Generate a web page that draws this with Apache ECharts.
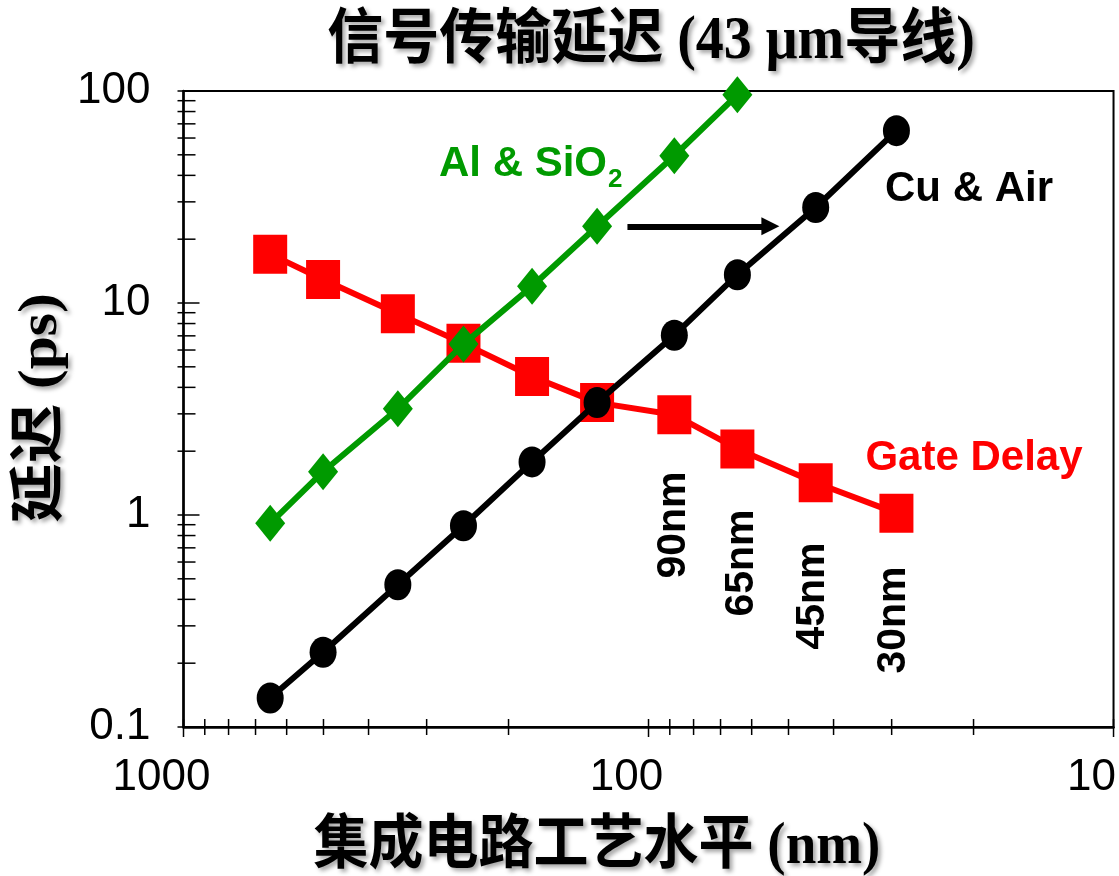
<!DOCTYPE html>
<html><head><meta charset="utf-8">
<script src="https://cdn.jsdelivr.net/npm/echarts@6/dist/echarts.min.js"></script>
<style>html,body{margin:0;padding:0;background:#fff}#c{width:1119px;height:876px}</style>
</head><body><div id="c"></div>
<script>
// ---- data ----
const nodes = [651, 501, 346, 250, 178, 129, 88, 64.4, 43.7, 29.3];     // nm (as plotted)
const cuAir = [0.137, 0.225, 0.469, 0.89, 1.78, 3.39, 7.05, 13.6, 28.2, 65.0];
const alSiO2 = [0.914, 1.60, 3.17, 6.40, 12.0, 23.0, 49.5, 96.0];      // first 8 nodes
const gateDelay = [17.0, 12.9, 8.9, 6.45, 4.5, 3.39, 2.97, 2.05, 1.42, 1.02];
const xTickLabels = [1000, 100, 10];
const yTickLabels = [0.1, 1, 10, 100];
const xMinorTicks = [900, 800, 700, 600, 500, 400, 300, 200, 90, 80, 70, 60, 50, 40, 30, 20];
const yMinorTicks = [0.2, 0.3, 0.4, 0.5, 0.6, 0.7, 0.8, 0.9, 2, 3, 4, 5, 6, 7, 8, 9, 20, 30, 40, 50, 60, 70, 80, 90];
const nodeLabels = ['90nm', '65nm', '45nm', '30nm'];
const arrowFrom = [111, 23.0];
const arrowTo = [54.7, 23.0];

const titleText = '信号传输延迟 (43 μm导线)';
const xName = '集成电路工艺水平 (nm)';
const yName = '延迟 (ps)';

const pair = (xs, ys) => ys.map((v, i) => [xs[i], v]);
const CJK = '"Liberation Serif","Noto Sans CJK SC"';
const SANS = '"Liberation Sans", Arial, sans-serif';
const shadow = { textShadowColor: 'rgba(0,0,0,0.35)', textShadowBlur: 4, textShadowOffsetX: 3, textShadowOffsetY: 3 };

const chart = echarts.init(document.getElementById('c'));
const fmt = v => { let best = v; for (const t of xTickLabels.concat(yTickLabels)) if (Math.abs(t - v) / t < 1e-6) best = t; return String(best); };

const tickSeries = (data, dir) => ({
  type: 'custom', coordinateSystem: 'cartesian2d', silent: true, clip: false, z: 6,
  data: data,
  renderItem: (params, api) => {
    const p = api.coord([api.value(0), api.value(1)]);
    const major = api.value(2) === 1;
    const shape = dir === 'x'
      ? { x1: p[0], y1: p[1] - 8, x2: p[0], y2: p[1] + (major ? 10 : 8) }
      : { x1: p[0] - 6, y1: p[1], x2: p[0] + (major ? 16 : 12), y2: p[1] };
    return { type: 'line', shape, style: { stroke: '#000', lineWidth: 1.5 } };
  }
});

const option = {
  animation: false,
  backgroundColor: '#fff',
  grid: { left: 183.5, right: 5, top: 91, bottom: 149, show: true, borderColor: '#000', borderWidth: 2, backgroundColor: 'transparent' },
  xAxis: {
    type: 'log', logBase: 10, min: 10, max: 1000, inverse: true,
    axisLine: { show: true, lineStyle: { color: '#000', width: 2.5 } },
    axisTick: { show: false },
    splitLine: { show: false },
    axisLabel: { show: true, formatter: fmt, color: '#000', fontFamily: SANS, fontSize: 44, margin: 29, padding: [0, 44, 0, 0], showMinLabel: true, showMaxLabel: true, hideOverlap: false }
  },
  yAxis: {
    type: 'log', logBase: 10, min: 0.1, max: 100,
    axisLine: { show: true, lineStyle: { color: '#000', width: 2.5 } },
    axisTick: { show: false },
    splitLine: { show: false },
    axisLabel: { show: true, formatter: fmt, color: '#000', fontFamily: SANS, fontSize: 44, margin: 33, showMinLabel: true, showMaxLabel: true, hideOverlap: false }
  },
  series: [
    { name: 'Gate Delay', type: 'line', data: pair(nodes, gateDelay), color: '#ff0000',
      lineStyle: { width: 6, color: '#ff0000' }, symbol: 'rect', symbolSize: [34, 39],
      itemStyle: { color: '#ff0000' }, z: 2 },
    { name: 'Al & SiO2', type: 'line', data: pair(nodes, alSiO2), color: '#009a00',
      lineStyle: { width: 6, color: '#009a00' }, symbol: 'diamond', symbolSize: [30, 37],
      itemStyle: { color: '#009a00' }, z: 3 },
    { name: 'Cu & Air', type: 'line', data: pair(nodes, cuAir), color: '#000',
      lineStyle: { width: 6, color: '#000' }, symbol: 'circle', symbolSize: [27, 31],
      itemStyle: { color: '#000' }, z: 4,
      markLine: { silent: true, symbol: ['none', 'triangle'], symbolSize: [18, 18],
        lineStyle: { color: '#000', width: 6, type: 'solid' }, label: { show: false },
        data: [[{ coord: arrowFrom }, { coord: arrowTo }]] } },
    tickSeries(xMinorTicks.map(v => [v, 0.1, 0]).concat(xTickLabels.map(v => [v, 0.1, 1])), 'x'),
    tickSeries(yMinorTicks.map(v => [1000, v, 0]).concat(yTickLabels.map(v => [1000, v, 1])), 'y')
  ],
  graphic: [
    { type: 'text', x: 651, y: 42, scaleY: 1.08, style: Object.assign({ text: titleText, font: 'bold 56px ' + CJK, fill: '#000', align: 'center', verticalAlign: 'middle' }, shadow) },
    { type: 'text', x: 597, y: 848, scaleY: 1.08, style: Object.assign({ text: xName, font: 'bold 55px ' + CJK, fill: '#000', align: 'center', verticalAlign: 'middle' }, shadow) },
    { type: 'text', x: 42, y: 408, rotation: Math.PI / 2, scaleX: 1.08, style: Object.assign({ text: yName, font: 'bold 55px ' + CJK, fill: '#000', align: 'center', verticalAlign: 'middle' }, shadow) },
    { type: 'text', x: 969, y: 189, style: { text: 'Cu & Air', font: 'bold 42px ' + SANS, fill: '#000', align: 'center', verticalAlign: 'middle' } },
    { type: 'text', x: 974, y: 458, style: { text: 'Gate Delay', font: 'bold 42px ' + SANS, fill: '#ff0000', align: 'center', verticalAlign: 'middle' } },
    { type: 'text', x: 439, y: 164, style: { text: 'Al & SiO', font: 'bold 42px ' + SANS, fill: '#009a00', align: 'left', verticalAlign: 'middle' } },
    { type: 'text', x: 608, y: 180, style: { text: '2', font: 'bold 26px ' + SANS, fill: '#009a00', align: 'left', verticalAlign: 'middle' } },
    { type: 'text', x: 674, y: 525, rotation: Math.PI / 2, style: { text: nodeLabels[0], font: 'bold 41px ' + SANS, fill: '#000', align: 'center', verticalAlign: 'middle' } },
    { type: 'text', x: 742, y: 563, rotation: Math.PI / 2, style: { text: nodeLabels[1], font: 'bold 41px ' + SANS, fill: '#000', align: 'center', verticalAlign: 'middle' } },
    { type: 'text', x: 813, y: 596, rotation: Math.PI / 2, style: { text: nodeLabels[2], font: 'bold 41px ' + SANS, fill: '#000', align: 'center', verticalAlign: 'middle' } },
    { type: 'text', x: 894, y: 620, rotation: Math.PI / 2, style: { text: nodeLabels[3], font: 'bold 41px ' + SANS, fill: '#000', align: 'center', verticalAlign: 'middle' } }
  ]
};
chart.setOption(option);
</script>
</body></html>
